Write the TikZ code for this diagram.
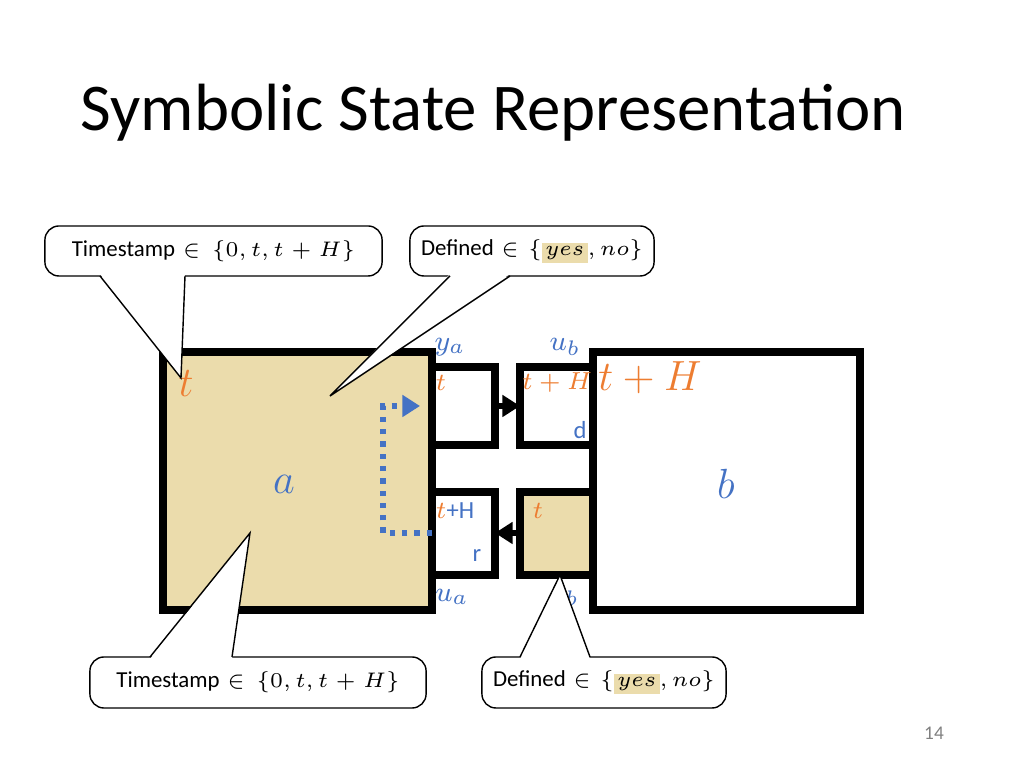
\documentclass[tikz,border=0pt]{standalone}
\usepackage{fontspec}
\setmainfont{Carlito}
\usepackage{tikz}
\usetikzlibrary{positioning,arrows.meta}
\definecolor{tan}{HTML}{EBDCAC}
\definecolor{blu}{HTML}{4472C4}
\definecolor{org}{HTML}{ED7D31}
\def\hl#1{\setlength{\fboxsep}{1pt}\colorbox{tan}{#1}}

\begin{document}
\begin{tikzpicture}[x=0.01cm, y=-0.01cm, every node/.style={inner sep=0pt},
    block/.style={draw, line width=2pt},
    callout/.style={draw, thin, rounded corners=4pt, fill=white, font=\fontsize{6.5}{8}\selectfont},
    bl/.style={text=blu}, og/.style={text=org}]
    \useasboundingbox (0,0) rectangle (1024,768);

    \node[anchor=west, font=\fontsize{19}{22}\selectfont] (title) at (80,113) {Symbolic State Representation};

    \draw[block, fill=tan] (163,352) rectangle (432,610);
    \draw[block] (593,352) rectangle (860,610);
    \draw[block] (432,367) rectangle (495,445);
    \draw[block] (520,367) rectangle (593,445);
    \draw[block] (432,492) rectangle (495,575);
    \draw[block, fill=tan] (520,492) rectangle (593,575);

    \coordinate (ya) at (495,406); \coordinate (ub) at (520,406);
    \coordinate (yb) at (520,533); \coordinate (ua) at (495,533);
    \draw[line width=1.5pt, -{Triangle[length=5pt,width=6pt]}] (ya) -- (ub);
    \draw[line width=1.5pt, -{Triangle[length=5pt,width=6pt]}] (yb) -- (ua);

    \coordinate (d1) at (432,533); \coordinate (d2) at (420,406);
    \draw[blu, line width=1.5pt, dotted, -{Triangle[length=5pt,width=6pt]}] (d1) -- (383,533) -- (383,406) -- (d2);

    \node[bl, font=\fontsize{8}{9}\selectfont] (lya) at (450,347) {$y_a$};
    \node[bl, font=\fontsize{8}{9}\selectfont] (lub) at (565,347) {$u_b$};
    \node[og, font=\fontsize{7}{8}\selectfont] (lt1) at (441,383) {$t$};
    \node[og, font=\fontsize{7}{8}\selectfont] (lth1) at (557,383) {$t+H$};
    \node[og, font=\fontsize{12}{14}\selectfont] (lthb) at (650,378) {$t+H$};
    \node[bl, font=\fontsize{7}{8}\selectfont] (ld) at (580,430) {d};
    \node[bl, font=\fontsize{12}{14}\selectfont] (la) at (284,484) {$a$};
    \node[bl, font=\fontsize{12}{14}\selectfont] (lb) at (726,484) {$b$};
    \node[og, font=\fontsize{12}{14}\selectfont] (lta) at (186,384) {$t$};
    \node[font=\fontsize{7}{8}\selectfont] (lth2) at (455,511) {\textcolor{org}{$t$}\textcolor{blu}{+H}};
    \node[og, font=\fontsize{7}{8}\selectfont] (lt2) at (538,511) {$t$};
    \node[bl, font=\fontsize{7}{8}\selectfont] (lr) at (477,556) {r};
    \node[bl, font=\fontsize{8}{9}\selectfont] (lua) at (452,597) {$u_a$};
    \node[bl, font=\fontsize{8}{9}\selectfont] (lyb) at (565,597) {$y_b$};

    % callouts
    \node[callout, text width=3.37cm, minimum height=0.5cm, align=center] (c1) at (213.5,251) {Timestamp $\in\{0,t,t+H\}$};
    \fill[white] (100,274) -- (181,378) -- (185,274) -- cycle;
    \draw[thin] (100,276) -- (181,378) -- (185,276);

    \node[callout, text width=2.44cm, minimum height=0.5cm, align=center] (c2) at (532,251) {Defined $\in\{$\hl{$yes$}$,no\}$};
    \fill[white] (450,274) -- (330,396) -- (510,274) -- cycle;
    \draw[thin] (450,276) -- (330,396) -- (510,276);

    \node[callout, text width=3.36cm, minimum height=0.51cm, align=center] (c3) at (258,682.5) {Timestamp $\in\{0,t,t+H\}$};
    \fill[white] (150,659) -- (250,533) -- (232,659) -- cycle;
    \draw[thin] (150,657) -- (250,533) -- (232,657);

    \node[callout, text width=2.44cm, minimum height=0.51cm, align=center] (c4) at (604,682.5) {Defined $\in\{$\hl{$yes$}$,no\}$};
    \fill[white] (520,659) -- (560,575) -- (590,659) -- cycle;
    \draw[thin] (520,657) -- (560,575) -- (590,657);

    \node[text=gray, font=\fontsize{5.5}{6}\selectfont] (pg) at (934,733) {14};
\end{tikzpicture}
\end{document}
